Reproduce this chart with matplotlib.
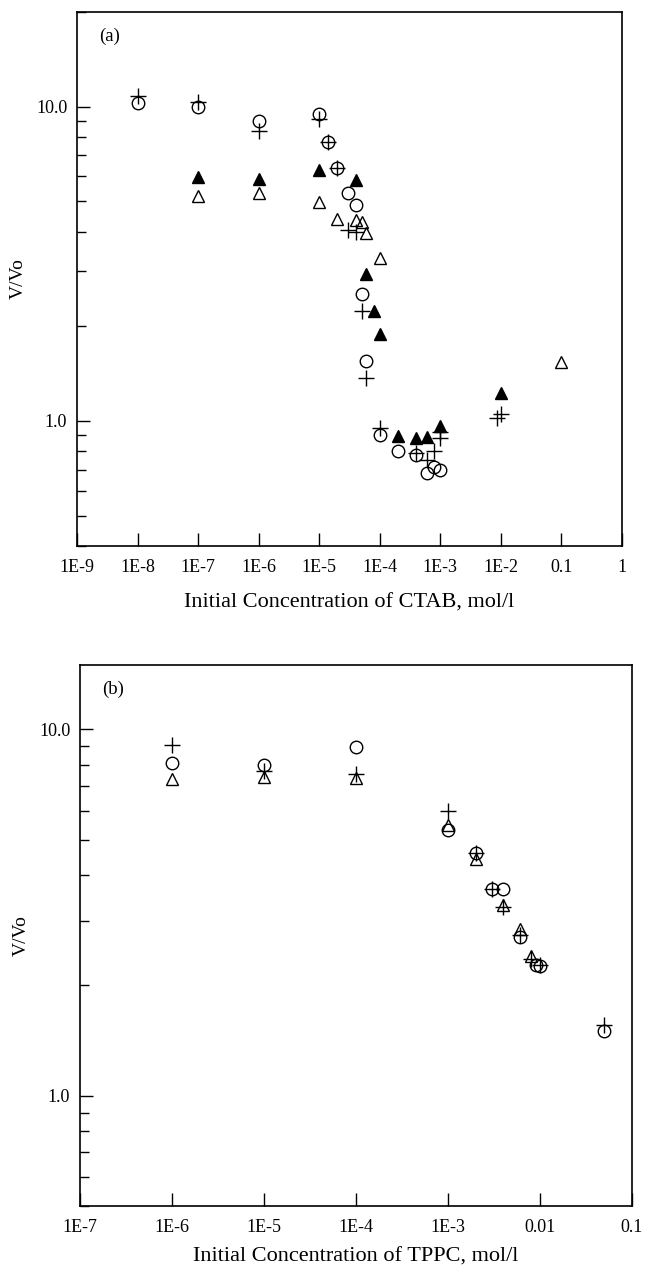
import matplotlib
matplotlib.use("Agg")
import matplotlib.pyplot as plt
from matplotlib.ticker import FixedLocator, NullFormatter, NullLocator

plt.rcParams['font.family'] = ['Liberation Serif', 'DejaVu Serif']

# ---------------- Panel (a): CTAB ----------------
a_circ_x = [1e-8, 1e-7, 1e-6, 1e-5, 1.4e-5, 2e-5, 3e-5, 4e-5, 5e-5, 6e-5, 1e-4, 2e-4, 4e-4, 6e-4, 8e-4, 1e-3]
a_circ_y = [10.3, 9.95, 9.0, 9.5, 7.7, 6.4, 5.33, 4.87, 2.54, 1.55, 0.90, 0.80, 0.78, 0.685, 0.715, 0.70]

a_plus_x = [1e-8, 1e-7, 1e-6, 1e-5, 1.4e-5, 2e-5, 3e-5, 4e-5, 5e-5, 6e-5, 1e-4, 4e-4, 6e-4, 8e-4, 1e-3, 1e-3, 8.5e-3, 1e-2]
a_plus_y = [10.8, 10.35, 8.35, 9.1, 7.7, 6.4, 4.05, 3.98, 2.23, 1.37, 0.95, 0.79, 0.75, 0.80, 0.92, 0.885, 1.02, 1.05]

a_otri_x = [1e-7, 1e-6, 1e-5, 2e-5, 4e-5, 5e-5, 6e-5, 1e-4, 0.1]
a_otri_y = [5.18, 5.33, 4.96, 4.4, 4.35, 4.3, 3.96, 3.3, 1.54]

a_ftri_x = [1e-7, 1e-6, 1e-5, 4e-5, 6e-5, 8e-5, 1e-4, 2e-4, 4e-4, 6e-4, 1e-3, 1e-2]
a_ftri_y = [5.95, 5.9, 6.3, 5.85, 2.94, 2.23, 1.89, 0.895, 0.885, 0.89, 0.965, 1.225]

a_xticks = [1e-9, 1e-8, 1e-7, 1e-6, 1e-5, 1e-4, 1e-3, 1e-2, 0.1, 1]
a_xticklabels = ["1E-9", "1E-8", "1E-7", "1E-6", "1E-5", "1E-4", "1E-3", "1E-2", "0.1", "1"]
a_xlabel = "Initial Concentration of CTAB, mol/l"

# ---------------- Panel (b): TPPC ----------------
b_circ_x = [1e-6, 1e-5, 1e-4, 1e-3, 2e-3, 3e-3, 4e-3, 6e-3, 9e-3, 1e-2, 0.05]
b_circ_y = [8.09, 7.98, 8.95, 5.3, 4.6, 3.66, 3.66, 2.72, 2.28, 2.26, 1.50]

b_plus_x = [1e-6, 1e-5, 1e-4, 1e-3, 2e-3, 3e-3, 4e-3, 6e-3, 8e-3, 1e-2, 0.05]
b_plus_y = [9.08, 7.7, 7.57, 5.98, 4.6, 3.66, 3.28, 2.75, 2.36, 2.27, 1.56]

b_otri_x = [1e-6, 1e-5, 1e-4, 1e-3, 2e-3, 4e-3, 6e-3, 8e-3]
b_otri_y = [7.34, 7.41, 7.37, 5.5, 4.42, 3.31, 2.85, 2.40]

b_xticks = [1e-7, 1e-6, 1e-5, 1e-4, 1e-3, 1e-2, 0.1]
b_xticklabels = ["1E-7", "1E-6", "1E-5", "1E-4", "1E-3", "0.01", "0.1"]
b_xlabel = "Initial Concentration of TPPC, mol/l"

y_major = [1.0, 10.0]
y_major_labels = ["1.0", "10.0"]
y_label = "V/Vo"

W, H = 646, 1270
fig = plt.figure(figsize=(W / 100, H / 100), dpi=100)


def rect(l, t, r, b):
    return [l / W, 1 - b / H, (r - l) / W, (b - t) / H]


ax_a = fig.add_axes(rect(77, 12, 622, 546))
ax_b = fig.add_axes(rect(80, 665, 632, 1206))

mk = dict(linestyle='none', color='black', markeredgewidth=1.0)


def style(ax, xlim, ylim, xticks, xticklabels, xlabel, tag, xlabelpad):
    ax.set_xscale('log')
    ax.set_yscale('log')
    ax.set_xlim(*xlim)
    ax.set_ylim(*ylim)
    ax.xaxis.set_major_locator(FixedLocator(xticks))
    ax.set_xticklabels(xticklabels)
    ax.xaxis.set_minor_locator(NullLocator())
    ax.yaxis.set_major_locator(FixedLocator(y_major))
    ax.set_yticklabels(y_major_labels)
    minors = []
    for dec in [0.1, 1.0, 10.0]:
        for k in range(2, 10):
            v = k * dec
            if ylim[0] <= v <= ylim[1]:
                minors.append(v)
    ax.yaxis.set_minor_locator(FixedLocator(minors))
    ax.yaxis.set_minor_formatter(NullFormatter())
    ax.tick_params(axis='x', which='major', direction='in', length=9.5, width=1.0,
                   labelsize=13, pad=9, top=False)
    ax.tick_params(axis='y', which='major', direction='in', length=9.5, width=1.0,
                   labelsize=13, pad=7, right=False)
    ax.tick_params(axis='y', which='minor', direction='in', length=6.5, width=1.0, right=False)
    for s in ax.spines.values():
        s.set_linewidth(1.2)
    ax.set_xlabel(xlabel, fontsize=16, labelpad=xlabelpad)
    ax.set_ylabel(y_label, fontsize=14, labelpad=7)
    ax.text(0.04, 0.955, tag, transform=ax.transAxes, fontsize=13.5, va='center', ha='left')


# panel a markers
ax_a.plot(a_circ_x, a_circ_y, marker='o', markersize=9, markerfacecolor='none', **mk)
ax_a.plot(a_plus_x, a_plus_y, marker='+', markersize=11, **mk)
ax_a.plot(a_otri_x, a_otri_y, marker='^', markersize=8, markerfacecolor='none', **mk)
ax_a.plot(a_ftri_x, a_ftri_y, marker='^', markersize=8, markerfacecolor='black', **mk)
style(ax_a, (1e-9, 1), (0.4, 20), a_xticks, a_xticklabels, a_xlabel, "(a)", 13)

# panel b markers
ax_b.plot(b_circ_x, b_circ_y, marker='o', markersize=9, markerfacecolor='none', **mk)
ax_b.plot(b_plus_x, b_plus_y, marker='+', markersize=11, **mk)
ax_b.plot(b_otri_x, b_otri_y, marker='^', markersize=8, markerfacecolor='none', **mk)
style(ax_b, (1e-7, 0.1), (0.5, 15), b_xticks, b_xticklabels, b_xlabel, "(b)", 9)

fig.savefig("out.png", dpi=100, facecolor='white')
